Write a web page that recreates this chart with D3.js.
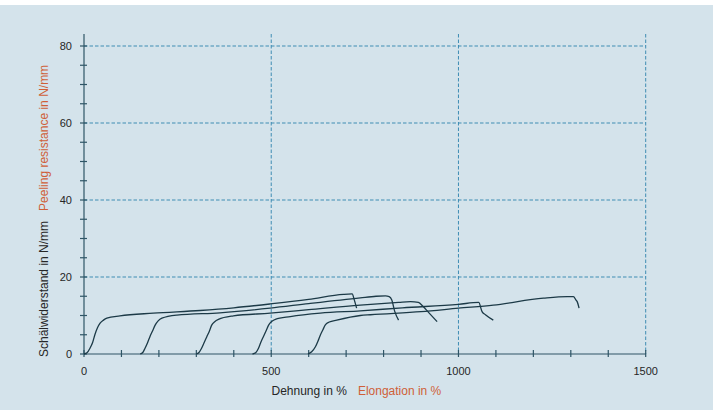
<!DOCTYPE html>
<html><head><meta charset="utf-8">
<script src="https://cdn.jsdelivr.net/npm/d3@7/dist/d3.min.js"></script>
<style>
html,body{margin:0;padding:0;background:#fff;}
svg{display:block;}
</style></head>
<body><svg id="c" width="717" height="410"></svg>
<script>
// ---- data ----
const yTickLabels = [0, 20, 40, 60, 80];
const xTickLabels = [0, 500, 1000, 1500];
const yMinorTicks = [0,5,10,15,20,25,30,35,40,45,50,55,60,65,70,75,80];
const xMinorTicks = [0,100,200,300,400,500,600,700,800,900,1000,1100,1200,1300,1400,1500];

const curve1 = [[0,0],[8,0.3],[16,1.5],[23,3],[29,5],[36,6.8],[43,8],[52,8.8],[61,9.3],[96,9.9],[185,10.6],[310,11.3],[400,12],[497,13],[600,14.2],[693,15.5],[716,15.6],[722,14],[728,11.9]];
const curve2 = [[150,0],[157,0.4],[163,1.5],[170,3],[176,4.5],[183,6],[190,7.5],[198,8.6],[208,9.3],[248,10.1],[363,10.7],[497,11.9],[600,13.1],[738,14.6],[780,15],[805,15.1],[815,14.9],[822,14],[830,11],[840,8.8]];
const curve3 = [[300,0],[307,0.4],[314,1.5],[321,3],[328,4.5],[335,6],[341,7.5],[349,8.4],[359,9],[399,9.9],[497,10.6],[600,11.5],[738,12.7],[840,13.4],[872,13.6],[893,13.4],[905,12.4],[920,10.8],[943,8.4]];
const curve4 = [[450,0],[459,0.4],[466,1.5],[472,3],[479,4.5],[486,6],[493,7.5],[502,8.5],[511,9],[551,9.7],[631,10.6],[738,11.2],[850,12],[1000,12.9],[1054,13.4],[1063,11],[1072,10.2],[1093,8.8]];
const curve5 = [[598,0],[608,0.6],[618,1.9],[625,3.4],[631,4.9],[638,6.3],[644,7.5],[655,8.3],[675,8.8],[738,10],[765,10.2],[900,11],[1000,11.9],[1093,12.7],[1227,14.5],[1290,14.9],[1307,14.9],[1314,14],[1317,13.6],[1322,11.9]];
const curves = [curve1, curve2, curve3, curve4, curve5];

const xTitleDe = "Dehnung in %";
const xTitleEn = "Elongation in %";
const yTitleDe = "Schälwiderstand in N/mm";
const yTitleEn = "Peeling resistance in N/mm";

// ---- layout ----
const svg = d3.select("#c");
const W = 717, H = 410;
const bg = "#d4e3eb", axisCol = "#2e5566", gridCol = "#3f8db3", lineCol = "#1c3a47";
const textCol = "#262626", orange = "#cf5f38";
const font = "'Liberation Sans', Arial, sans-serif";

svg.append("rect").attr("x",0).attr("y",5).attr("width",713).attr("height",H-5).attr("fill",bg);

const x = d3.scaleLinear().domain([0,1500]).range([84,645.7]);
const y = d3.scaleLinear().domain([0,80]).range([354,46]);
const yTop = 34;

// grid
const g = svg.append("g");
g.selectAll("line.hg").data(yTickLabels.filter(d=>d>0)).join("line")
  .attr("x1",x(0)).attr("x2",x(1500)).attr("y1",d=>y(d)).attr("y2",d=>y(d))
  .attr("stroke",gridCol).attr("stroke-width",1).attr("stroke-dasharray","3.5,2");
g.selectAll("line.vg").data(xTickLabels.filter(d=>d>0)).join("line")
  .attr("x1",d=>x(d)).attr("x2",d=>x(d)).attr("y1",yTop).attr("y2",y(0))
  .attr("stroke",gridCol).attr("stroke-width",1).attr("stroke-dasharray","3.5,2");

// axes lines
svg.append("line").attr("x1",x(0)).attr("x2",x(0)).attr("y1",yTop).attr("y2",y(0))
  .attr("stroke",axisCol).attr("stroke-width",1.2);
svg.append("line").attr("x1",x(0)).attr("x2",x(1500)).attr("y1",y(0)).attr("y2",y(0))
  .attr("stroke",axisCol).attr("stroke-width",1.2);

// ticks
svg.selectAll("line.yt").data(yMinorTicks).join("line")
  .attr("x1",x(0)-4).attr("x2",x(0)+3).attr("y1",d=>y(d)).attr("y2",d=>y(d))
  .attr("stroke",axisCol).attr("stroke-width",1.2);
svg.selectAll("line.xt").data(xMinorTicks).join("line")
  .attr("x1",d=>x(d)).attr("x2",d=>x(d)).attr("y1",y(0)-4).attr("y2",y(0)+3)
  .attr("stroke",axisCol).attr("stroke-width",1.2);

// tick labels
svg.selectAll("text.yl").data(yTickLabels).join("text")
  .attr("x",x(0)-12).attr("y",d=>y(d)).attr("dy","0.36em")
  .attr("text-anchor","end").attr("font-family",font).attr("font-size",11)
  .attr("fill",textCol).text(d=>d);
svg.selectAll("text.xl").data(xTickLabels).join("text")
  .attr("x",d=>x(d)).attr("y",375)
  .attr("text-anchor","middle").attr("font-family",font).attr("font-size",11)
  .attr("fill",textCol).text(d=>d);

// axis titles
const xt = svg.append("text").attr("x",271.5).attr("y",395)
  .attr("font-family",font).attr("font-size",12);
xt.append("tspan").attr("fill",textCol).text(xTitleDe);
xt.append("tspan").attr("fill",orange).attr("dx",11).text(xTitleEn);

const yt = svg.append("text").attr("transform","translate(48,357) rotate(-90)")
  .attr("font-family",font).attr("font-size",12);
yt.append("tspan").attr("fill",textCol).text(yTitleDe);
yt.append("tspan").attr("fill",orange).attr("dx",10).text(yTitleEn);

// curves
const line = d3.line().x(d=>x(d[0])).y(d=>y(d[1])).curve(d3.curveMonotoneX);
svg.selectAll("path.c").data(curves).join("path")
  .attr("d",line).attr("fill","none").attr("stroke",lineCol).attr("stroke-width",1.3);
</script>
</body></html>
